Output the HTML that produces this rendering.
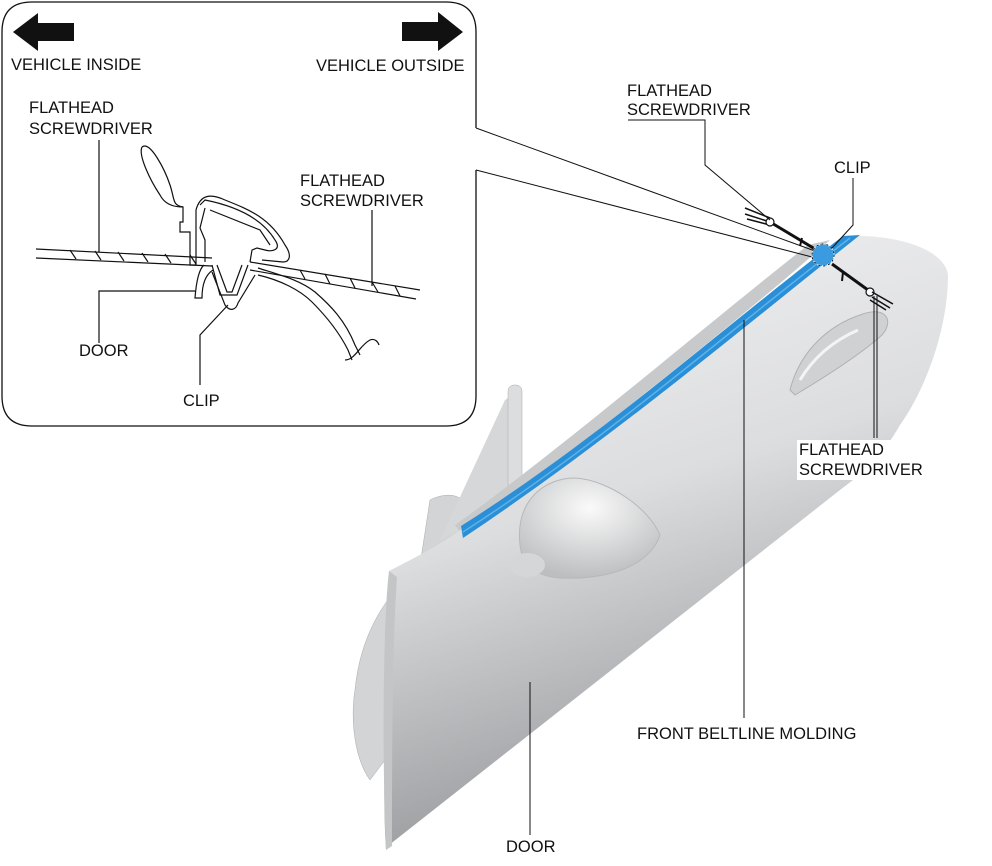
<!DOCTYPE html>
<html><head><meta charset="utf-8"><style>
html,body{margin:0;padding:0;background:#fff;}
svg{display:block;}
text{font-family:"Liberation Sans",sans-serif;font-size:16.5px;fill:#111;}
</style></head><body>
<svg width="992" height="866" viewBox="0 0 992 866" xmlns="http://www.w3.org/2000/svg">
<defs>
<linearGradient id="door" x1="0" y1="0" x2="0.3" y2="1">
<stop offset="0" stop-color="#f4f4f5"/><stop offset="0.5" stop-color="#dcdddf"/><stop offset="1" stop-color="#939598"/>
</linearGradient>
<radialGradient id="mir" cx="0.5" cy="0.3" r="0.7"><stop offset="0" stop-color="#fafafa"/><stop offset="1" stop-color="#bdbec0"/></radialGradient>
</defs>

<path d="M355,690 C360,640 380,600 420,565 L430,500 C450,490 470,495 470,520 L465,540 L420,590 L395,620 L385,760 L370,780 C355,760 350,720 355,690Z" fill="#d3d4d6" stroke="#aaa" stroke-width="0.5"/>
<path d="M440,540 L505,400 L520,390 L520,490 L470,525Z" fill="#d6d7d9"/>
<rect x="508" y="385" width="14" height="110" rx="6" fill="#dcdddf" stroke="#aaa" stroke-width="0.5"/>
<path d="M455,525 C560,450 700,330 808,245 L830,240 C740,320 600,430 462,535Z" fill="#c8c9cb"/>
<path d="M389,571 C420,555 440,545 460,530 C600,440 720,340 828,258 L858,236 C900,236 945,250 948,275 C948,330 925,390 900,425 C880,460 860,475 840,490 L389,845 L386,850 C380,760 392,660 389,571Z" fill="url(#door)"/>
<path d="M389,571 C383,620 382,760 386,850 L392,846 C392,760 392,650 397,577Z" fill="#c4c5c7"/>
<path d="M461,526 C600,438 720,330 843,236 L860,235 C740,330 610,440 463,538Z" fill="#2a8fd6"/>
<path d="M463,532 C600,444 720,338 850,238" stroke="#5cb3ea" stroke-width="1.5" fill="none"/>
<path d="M520,545 C515,500 545,478 575,478 C610,480 650,510 660,535 C650,565 610,580 560,578 C535,576 522,565 520,545Z" fill="url(#mir)" stroke="#b7b8ba" stroke-width="1"/>
<ellipse cx="527" cy="565" rx="18" ry="12" fill="#d5d6d8"/>
<path d="M790,390 C800,350 830,325 860,315 C885,305 895,320 882,335 C860,355 820,380 795,395Z" fill="#d0d1d3" stroke="#b0b1b3" stroke-width="1"/>
<path d="M800,380 C815,355 835,340 858,330" stroke="#f4f4f4" stroke-width="3" fill="none"/>

<line x1="476" y1="128" x2="815" y2="251" stroke="#111" stroke-width="1"/>
<line x1="476" y1="170" x2="812" y2="257" stroke="#111" stroke-width="1"/>
<line x1="770" y1="222" x2="815" y2="249" stroke="#111" stroke-width="3"/>
<path d="M745,208 L770,218 M745,214 L770,222 M747,219 L770,225" stroke="#111" stroke-width="1.5"/>
<circle cx="770" cy="222" r="4" fill="#fff" stroke="#111" stroke-width="1.2"/>
<line x1="802" y1="238" x2="800" y2="246" stroke="#111" stroke-width="2"/>
<line x1="832" y1="264" x2="868" y2="290" stroke="#111" stroke-width="3"/>
<circle cx="870" cy="292" r="4" fill="#fff" stroke="#111" stroke-width="1.2"/>
<path d="M872,292 L893,304 M872,297 L890,308 M870,300 L886,310" stroke="#111" stroke-width="1.5"/>
<line x1="843" y1="272" x2="842" y2="281" stroke="#111" stroke-width="2"/>
<circle cx="823" cy="255" r="11" fill="#3a9be0" stroke="#fff" stroke-width="1.5" stroke-dasharray="3,2"/>
<circle cx="823" cy="255" r="11" fill="none" stroke="#111" stroke-width="1" stroke-dasharray="2,3"/>

<polyline points="628,120 705,120 705,165 770,220" fill="none" stroke="#111" stroke-width="1"/>
<polyline points="853,178 853,225 832,248" fill="none" stroke="#111" stroke-width="1"/>
<line x1="874" y1="296" x2="874" y2="438" stroke="#111" stroke-width="1"/>
<line x1="877" y1="296" x2="877" y2="438" stroke="#111" stroke-width="1"/>
<line x1="744" y1="320" x2="744" y2="718" stroke="#111" stroke-width="1"/>
<line x1="530" y1="682" x2="530" y2="835" stroke="#111" stroke-width="1"/>

<rect x="797" y="440" width="132" height="40" fill="#fff"/>
<text x="627" y="96">FLATHEAD</text><text x="627" y="115">SCREWDRIVER</text>
<text x="834" y="173">CLIP</text>
<text x="799" y="455">FLATHEAD</text><text x="799" y="475">SCREWDRIVER</text>
<rect x="632" y="720" width="230" height="22" fill="#fff"/>
<text x="637" y="739">FRONT BELTLINE MOLDING</text>
<text x="506" y="852">DOOR</text>

<path d="M476,128 L476,32 Q476,2 446,2 L32,2 Q2,2 2,32 L2,396 Q2,426 32,426 L446,426 Q476,426 476,396 L476,170" fill="#fff" stroke="#111" stroke-width="1.3"/>
<path d="M13,32 L38,13 L38,23 L74,23 L74,41 L38,41 L38,51Z" fill="#111"/>
<path d="M463,32 L438,12 L438,22 L402,22 L402,41 L438,41 L438,51Z" fill="#111"/>
<text x="11" y="70">VEHICLE INSIDE</text>
<text x="316" y="71">VEHICLE OUTSIDE</text>
<text x="29" y="113">FLATHEAD</text><text x="29" y="134">SCREWDRIVER</text>
<text x="300" y="186">FLATHEAD</text><text x="300" y="206">SCREWDRIVER</text>
<text x="79" y="356">DOOR</text>
<text x="183" y="406">CLIP</text>

<g fill="none" stroke="#111" stroke-width="1.2">
<line x1="36" y1="249" x2="212" y2="258"/>
<line x1="36" y1="258" x2="212" y2="266"/>
<path d="M70,250 L76,259 M95,251 L101,260 M118,252 L124,261 M142,253 L148,262 M165,254 L171,263 M190,255 L196,264"/>
<line x1="250" y1="262" x2="420" y2="290"/>
<line x1="250" y1="270" x2="416" y2="299"/>
<path d="M300,270 L305,279 M325,274 L330,284 M350,278 L355,288 M372,282 L378,292 M395,286 L400,296"/>
<line x1="99" y1="140" x2="99" y2="252"/>
<line x1="372" y1="210" x2="372" y2="286"/>
<polyline points="99,343 99,291 195,291"/>
<polyline points="200,385 200,335 228,305"/>
<path d="M142,147 C150,140 165,170 170,185 C175,200 172,205 183,207 L183,222 L180,222 L180,232 L190,232 L190,265 L196,265 L196,210 C200,195 210,193 225,200 C250,210 270,218 285,245 C292,255 290,262 283,262 L262,260"/>
<path d="M142,147 C138,155 150,180 160,195 C165,205 175,207 183,207"/>
<path d="M200,205 L205,200 C230,205 260,215 275,240 C282,250 272,252 265,250 L257,248 L252,250 L250,262"/>
<path d="M205,208 L200,228 L205,240 L205,262 M210,210 L260,230 L270,245"/>
<path d="M204,265 C198,270 196,285 195,298 L202,298 C202,285 205,275 213,270"/>
<path d="M212,265 L220,295 L237,295 L248,265 M217,265 L227,292 L232,292 L242,265"/>
<path d="M212,272 L225,305 C230,312 236,310 238,303 L255,275"/>
<path d="M258,268 C280,275 300,280 315,292 C330,305 345,320 355,345 L360,355 M258,275 C280,280 300,290 312,302 C325,315 338,330 348,350 L352,360"/>
<path d="M345,360 C355,360 360,345 370,340 C375,338 378,342 379,345"/>
</g>
</svg>
</body></html>
